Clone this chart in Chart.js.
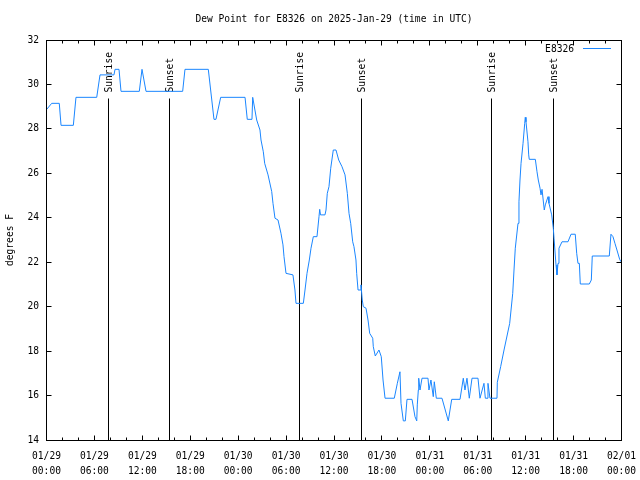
<!DOCTYPE html>
<html>
<head>
<meta charset="utf-8">
<script src="https://cdn.jsdelivr.net/npm/chart.js@4.4.1/dist/chart.umd.min.js"></script>
<style>
  html, body { margin: 0; padding: 0; background: #fff; }
  canvas { display: block; }
</style>
</head>
<body>
<canvas id="myChart" width="640" height="480"></canvas>
<script>
// hours since 01/29 00:00 UTC
const hours = [
  0.03, 0.65, 1.60, 1.82, 3.36, 3.69, 6.29, 6.70, 8.45, 8.58,
  9.08, 9.33, 11.62, 11.96, 12.46, 17.05, 17.34, 20.26, 20.97, 21.22,
  21.81, 24.86, 25.14, 25.73, 25.82, 26.32, 26.73, 26.86, 27.15, 27.32,
  27.74, 28.20, 28.36, 28.61, 28.99, 29.36, 29.61, 29.74, 29.99, 30.86,
  31.11, 31.24, 32.16, 32.37, 32.62, 32.91, 33.12, 33.41, 33.87, 34.12,
  34.21, 34.31, 34.87, 35.00, 35.16, 35.37, 35.59, 35.91, 36.25, 36.59,
  37.00, 37.38, 37.67, 37.88, 38.09, 38.34, 38.50, 38.75, 38.84, 39.01,
  39.26, 39.38, 39.54, 39.67, 40.01, 40.26, 40.47, 40.85, 40.92, 41.17,
  41.63, 41.92, 42.14, 42.39, 43.55, 43.93, 44.26, 44.39, 44.68, 44.93,
  45.14, 45.77, 46.14, 46.36, 46.43, 46.56, 46.61, 46.77, 47.02, 47.77,
  47.89, 48.14, 48.43, 48.56, 48.81, 49.52, 50.31, 50.74, 51.78, 52.19,
  52.40, 52.65, 52.94, 53.28, 54.03, 54.28, 54.78, 54.95, 55.16, 55.28,
  55.53, 56.41, 56.45, 56.87, 57.29, 58.00, 58.38, 58.54, 58.70, 59.04,
  59.16, 59.29, 59.42, 59.67, 59.88, 59.95, 60.04, 60.29, 60.38, 60.45,
  61.21, 61.42, 61.58, 61.80, 61.92, 62.05, 62.33, 62.46, 62.80, 62.92,
  63.26, 63.46, 63.55, 63.80, 63.92, 64.05, 64.17, 64.55, 65.30, 65.68,
  66.21, 66.39, 66.55, 66.72, 66.84, 67.97, 68.22, 68.34, 70.47, 70.68,
  70.93, 71.18, 71.43, 71.77, 71.94
];
// dew point, degrees F
const dewPoint = [
  28.88, 29.15, 29.15, 28.16, 28.16, 29.42, 29.42, 30.43, 30.43, 30.68,
  30.68, 29.69, 29.69, 30.68, 29.69, 29.69, 30.68, 30.68, 28.43, 28.43,
  29.42, 29.42, 28.43, 28.43, 29.42, 28.40, 27.95, 27.50, 26.97, 26.45,
  25.93, 25.18, 24.65, 23.98, 23.90, 23.30, 22.78, 22.25, 21.50, 21.43,
  20.75, 20.15, 20.15, 20.75, 21.50, 22.10, 22.63, 23.15, 23.15, 24.05,
  24.38, 24.13, 24.13, 24.35, 25.10, 25.40, 26.23, 27.05, 27.05, 26.60,
  26.30, 25.93, 25.10, 24.20, 23.75, 22.92, 22.70, 22.10, 21.50, 20.75,
  20.75, 20.98, 20.30, 20.00, 19.93, 19.40, 18.80, 18.58, 18.20, 17.78,
  18.05, 17.75, 16.70, 15.88, 15.88, 16.55, 17.07, 15.65, 14.86, 14.86,
  15.83, 15.83, 15.05, 14.86, 15.58, 16.25, 16.78, 16.25, 16.78, 16.78,
  16.25, 16.70, 15.95, 16.62, 15.88, 15.88, 14.86, 15.83, 15.83, 16.78,
  16.25, 16.78, 15.88, 16.78, 16.78, 15.88, 16.55, 15.88, 15.88, 16.55,
  15.88, 15.88, 16.60, 17.30, 18.05, 19.25, 20.60, 21.65, 22.63, 23.75,
  24.72, 25.70, 26.45, 27.35, 28.25, 28.52, 28.32, 27.42, 26.83, 26.63,
  26.63, 26.07, 25.70, 25.33, 25.03, 25.28, 24.35, 24.58, 24.95, 24.65,
  24.13, 23.53, 23.08, 21.88, 21.43, 21.95, 22.63, 22.92, 22.92, 23.26,
  23.26, 22.40, 21.95, 21.95, 21.02, 21.02, 21.20, 22.28, 22.28, 23.26,
  23.15, 22.85, 22.55, 22.13, 22.02
];
const sunriseHours = [7.74, 31.66, 55.72];
const sunsetHours = [15.38, 39.47, 63.46];
const tickDates = ['01/29', '01/29', '01/29', '01/29', '01/30', '01/30', '01/30',
                   '01/30', '01/31', '01/31', '01/31', '01/31', '02/01'];
const tickTimes = ['00:00', '06:00', '12:00', '18:00', '00:00', '06:00', '12:00',
                   '18:00', '00:00', '06:00', '12:00', '18:00', '00:00'];
const stationName = 'E8326';

const FONT = 'DejaVu Sans Mono';
const LINE_COLOR = '#1a86ff';

Chart.defaults.font.family = FONT;
Chart.defaults.font.size = 9.6;
Chart.defaults.color = '#000';

// gnuplot-ish frame: border, inward ticks, sun markers, key
const gnuplotFrame = {
  id: 'gnuplotFrame',
  beforeDatasetsDraw(chart) {
    const { ctx, chartArea: a, scales: { x } } = chart;
    const lineTop = Math.floor(a.top + a.height * 0.146) + 0.5;
    ctx.save();
    ctx.strokeStyle = '#000';
    ctx.fillStyle = '#000';
    ctx.lineWidth = 1;
    ctx.font = '9.6px "' + FONT + '"';
    const mark = (t, label) => {
      const px = Math.floor(x.getPixelForValue(t)) + 0.5;
      ctx.beginPath();
      ctx.moveTo(px, lineTop);
      ctx.lineTo(px, a.bottom);
      ctx.stroke();
      ctx.save();
      ctx.translate(px + 1, lineTop - 6);
      ctx.rotate(-Math.PI / 2);
      ctx.textAlign = 'left';
      ctx.textBaseline = 'middle';
      ctx.fillText(label, 0, 0);
      ctx.restore();
    };
    sunriseHours.forEach(t => mark(t, 'Sunrise'));
    sunsetHours.forEach(t => mark(t, 'Sunset'));
    ctx.restore();
  },
  afterDraw(chart) {
    const { ctx, chartArea: a, scales: { x, y } } = chart;
    const L = Math.floor(a.left) + 0.5, R = Math.floor(a.right) + 0.5;
    const T = Math.floor(a.top) + 0.5, B = Math.floor(a.bottom) + 0.5;
    ctx.save();
    ctx.strokeStyle = '#000';
    ctx.lineWidth = 1;
    ctx.beginPath();
    for (let v = 0; v <= 72; v += 2) {
      const px = Math.floor(x.getPixelForValue(v)) + 0.5;
      const len = v % 6 === 0 ? 5 : 3;
      ctx.moveTo(px, B); ctx.lineTo(px, B - len);
      ctx.moveTo(px, T); ctx.lineTo(px, T + len);
    }
    for (let v = 14; v <= 32; v += 2) {
      const py = Math.floor(y.getPixelForValue(v)) + 0.5;
      ctx.moveTo(L, py); ctx.lineTo(L + 5, py);
      ctx.moveTo(R, py); ctx.lineTo(R - 5, py);
    }
    ctx.stroke();
    ctx.strokeRect(L, T, R - L, B - T);

    // key
    ctx.font = '9.6px "' + FONT + '"';
    ctx.fillStyle = '#000';
    ctx.textAlign = 'right';
    ctx.textBaseline = 'middle';
    ctx.fillText(stationName, 574, 49);
    ctx.strokeStyle = LINE_COLOR;
    ctx.beginPath();
    ctx.moveTo(583, 48.5);
    ctx.lineTo(611, 48.5);
    ctx.stroke();
    ctx.restore();
  }
};

new Chart(document.getElementById('myChart').getContext('2d'), {
  type: 'line',
  data: {
    datasets: [{
      label: stationName,
      data: hours.map((h, i) => ({ x: h, y: dewPoint[i] })),
      borderColor: LINE_COLOR,
      borderWidth: 1,
      pointRadius: 0,
      tension: 0,
      fill: false
    }]
  },
  options: {
    responsive: false,
    animation: false,
    devicePixelRatio: 1,
    layout: { padding: { left: 0, right: 18.5, top: 0, bottom: 0 } },
    plugins: {
      legend: { display: false },
      tooltip: { enabled: false },
      title: {
        display: true,
        text: 'Dew Point for E8326 on 2025-Jan-29 (time in UTC)',
        fullSize: false,
        color: '#000',
        font: { family: FONT, size: 9.6, weight: 'normal', lineHeight: 1 },
        padding: { top: 14.7, bottom: 15.7 }
      }
    },
    scales: {
      x: {
        type: 'linear',
        min: 0,
        max: 72,
        afterFit: s => { s.height = 40; s.paddingLeft = 0; s.paddingRight = 0; },
        grid: { display: false, drawTicks: false },
        border: { display: false },
        ticks: {
          stepSize: 6,
          autoSkip: false,
          maxRotation: 0,
          padding: 9,
          font: { family: FONT, size: 9.6, lineHeight: 1.5625 },
          callback: (v, i) => [tickDates[i], tickTimes[i]]
        }
      },
      y: {
        min: 14,
        max: 32,
        afterFit: s => { s.width = 46.5; s.paddingTop = 0; s.paddingBottom = 0; },
        grid: { display: false, drawTicks: false },
        border: { display: false },
        ticks: { stepSize: 2, padding: 7.5, font: { family: FONT, size: 9.6 } },
        title: {
          display: true,
          text: 'degrees F',
          font: { family: FONT, size: 9.6, lineHeight: 2.1 },
          padding: 0
        }
      }
    }
  },
  plugins: [gnuplotFrame]
});
</script>
</body>
</html>
